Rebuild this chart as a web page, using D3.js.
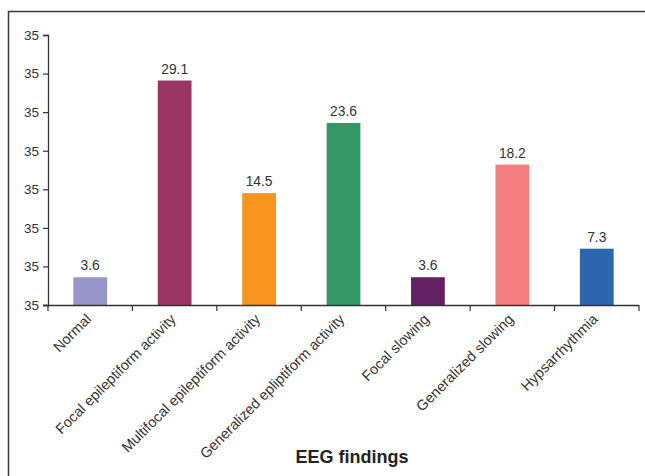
<!DOCTYPE html>
<html>
<head>
<meta charset="utf-8">
<script src="https://cdn.jsdelivr.net/npm/d3@7"></script>
<style>
  html, body { margin: 0; padding: 0; background: #fff; }
  svg { display: block; font-family: "Liberation Sans", Arial, Helvetica, sans-serif; }
</style>
</head>
<body>
<svg id="chart" width="645" height="476"></svg>
<script>
// EEG findings, percentage of patients
const categories = [
  "Normal",
  "Focal epileptiform activity",
  "Multifocal epileptiform activity",
  "Generalized epliptiform activity",
  "Focal slowing",
  "Generalized slowing",
  "Hypsarrhythmia"
];
const values = [3.6, 29.1, 14.5, 23.6, 3.6, 18.2, 7.3];
const colors = ["#9795c9", "#9a3463", "#f7951f", "#329866", "#632062", "#f47d7f", "#2d66ae"];
const yTicks = [0, 5, 10, 15, 20, 25, 30, 35];
const yTickLabels = ["35", "35", "35", "35", "35", "35", "35", "35"];
const xTitle = "EEG findings";

const svg = d3.select("#chart");
const ink = "#333";

// outer frame (left and top edges)
svg.append("path")
  .attr("d", "M8.5,476 L8.5,11.5 L645,11.5")
  .attr("fill", "none")
  .attr("stroke", "#3a3a3a")
  .attr("stroke-width", 1.5);

const plot = { left: 48, right: 639, top: 35, bottom: 305 };

const x = d3.scaleBand()
  .domain(categories)
  .range([plot.left, plot.right])
  .paddingInner(0.6)
  .paddingOuter(0.3);

const y = d3.scaleLinear().domain([0, 35]).range([plot.bottom, plot.top]);

// bars
svg.append("g").selectAll("rect")
  .data(values)
  .join("rect")
  .attr("x", (d, i) => x(categories[i]))
  .attr("width", x.bandwidth())
  .attr("y", d => y(d))
  .attr("height", d => y(0) - y(d))
  .attr("fill", (d, i) => colors[i]);

// value labels
svg.append("g").selectAll("text")
  .data(values)
  .join("text")
  .attr("x", (d, i) => x(categories[i]) + x.bandwidth() / 2)
  .attr("y", d => y(d) - 7)
  .attr("text-anchor", "middle")
  .attr("font-size", 13.8)
  .attr("fill", ink)
  .text(d => d.toFixed(1));

// y axis
const yAxis = svg.append("g")
  .attr("transform", `translate(${plot.left},0)`)
  .call(d3.axisLeft(y).tickValues(yTicks).tickSize(5).tickPadding(4)
    .tickFormat((d, i) => yTickLabels[i]));
yAxis.select(".domain").attr("stroke", ink).attr("stroke-width", 1.3);
yAxis.selectAll(".tick line").attr("stroke", ink).attr("stroke-width", 1.2);
yAxis.selectAll(".tick text")
  .attr("font-size", 13.5)
  .attr("font-family", "Liberation Sans, Arial, sans-serif")
  .attr("fill", ink);

// x axis: band boundary ticks
const step = x.step();
const bounds = d3.range(categories.length + 1).map(i => plot.left + i * step);
const xAxisG = svg.append("g");
xAxisG.append("line")
  .attr("x1", plot.left - 5).attr("x2", plot.right)
  .attr("y1", plot.bottom + 0.5).attr("y2", plot.bottom + 0.5)
  .attr("stroke", ink).attr("stroke-width", 1.3);
xAxisG.selectAll("line.tk")
  .data(bounds)
  .join("line")
  .attr("class", "tk")
  .attr("x1", d => d).attr("x2", d => d)
  .attr("y1", plot.bottom).attr("y2", plot.bottom + 6)
  .attr("stroke", ink).attr("stroke-width", 1.2);

// rotated category labels
svg.append("g").selectAll("text")
  .data(categories)
  .join("text")
  .attr("transform", d => `translate(${x(d) + x.bandwidth() / 2 + 2},${plot.bottom + 15}) rotate(-45)`)
  .attr("text-anchor", "end")
  .attr("font-size", 14.5)
  .attr("fill", ink)
  .text(d => d);

// axis title
svg.append("text")
  .attr("x", 352)
  .attr("y", 463)
  .attr("text-anchor", "middle")
  .attr("font-size", 18)
  .attr("font-weight", "bold")
  .attr("fill", "#222")
  .text(xTitle);
</script>
</body>
</html>
